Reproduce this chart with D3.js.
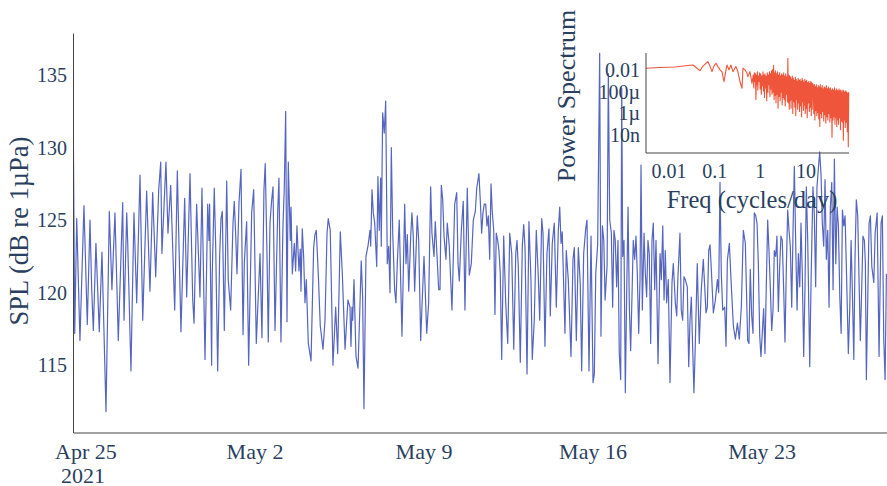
<!DOCTYPE html>
<html>
<head>
<meta charset="utf-8">
<script src="https://cdn.jsdelivr.net/npm/d3@7"></script>
<style>
  body { margin: 0; background: #fff; }
  svg { display: block; font-family: "Liberation Serif", "Times New Roman", serif; }
</style>
</head>
<body>
<div id="chart"></div>
<script>
// Hours since 2021-04-25 00:00 and the SPL reading at that time (dB re 1µPa)
const hoursSinceStart = [
  -12.6,-11.2,-9.2,-6.0,-2.0,1.3,4.0,5.7,7.3,9.9,
  13.2,15.9,19.9,23.2,25.8,28.8,32.1,36.5,37.8,40.5,
  41.5,44.7,47.7,50.4,53.7,56.4,60.3,63.6,66.3,69.3,
  72.3,74.3,75.5,79.5,81.5,84.2,88.2,90.8,94.4,98.1,
  100.1,103.4,106.1,107.4,110.0,113.3,115.3,
  118.3,121.0,122.3,122.9,124.9,125.5,127.5,128.9,130.9,132.9,
  134.2,135.5,137.5,139.9,141.4,143.8,146.1,147.4,148.8,150.1,
  152.1,154.1,156.1,157.4,159.7,161.7,164.7,166.7,169.3,173.0,
  174.9,176.9,178.2,179.9,181.2,182.9,184.6,185.9,187.9,190.6,
  191.8,193.8,195.8,197.1,198.5,199.8,201.1,203.1,203.8,205.1,
  207.1,208.4,209.7,211.7,213.0,213.7,215.0,216.4,217.7,219.0,
  221.0,223.7,226.3,227.6,228.9,230.9,232.9,235.6,237.6,239.6,
  240.8,242.8,245.5,248.2,250.2,252.8,254.8,
  257.5,260.4,262.4,263.4,264.4,265.1,266.4,268.4,270.4,272.4,
  273.6,275.0,276.3,278.3,280.3,282.3,283.0,284.3,285.6,287.0,
  289.0,290.2,291.5,292.9,293.5,294.9,296.5,297.9,299.5,300.9,
  302.2,303.5,304.9,306.8,308.1,309.4,311.4,314.1,316.8,318.1,
  319.4,320.8,322.8,324.0,325.3,326.7,329.3,330.7,332.7,334.0,
  336.0,338.7,340.6,342.6,343.9,345.9,347.2,348.6,350.6,351.9,
  353.2,354.6,355.9,357.8,359.1,361.1,363.8,366.5,368.5,369.8,
  371.1,373.1,375.0,376.7,379.0,381.0,383.0,385.0,387.0,388.4,
  390.6,391.9,393.3,394.6,395.9,397.3,398.6,399.9,401.3,402.6,
  403.9,405.3,406.5,407.8,409.2,410.5,411.8,413.2,415.2,417.2,
  419.2,421.2,423.2,425.2,427.2,428.4,429.7,431.7,433.7,435.1,
  436.4,438.4,440.3,442.3,443.6,445.6,447.6,449.6,451.0,453.0,
  454.3,456.2,458.2,460.2,461.5,463.5,465.5,467.5,469.5,470.9,
  472.2,473.4,476.1,477.4,479.4,482.1,484.1,485.4,487.4,489.4,
  491.3,492.7,494.7,496.7,498.0,500.0,502.0,504.0,505.3,506.7,
  508.6,510.6,511.9,513.3,514.7,516.0,518.0,519.2,520.6,
  522.2,523.5,524.8,526.1,527.5,528.8,530.1,531.5,532.5,533.5,
  534.8,536.1,537.5,538.8,540.1,541.4,542.7,544.0,545.4,546.7,
  548.0,549.4,550.7,551.7,553.0,554.7,556.0,557.3,558.6,559.9,
  561.3,562.6,563.9,565.3,566.6,568.6,570.6,571.9,573.3,574.6,
  575.8,577.2,578.8,580.5,582.5,583.8,585.8,587.2,588.4,590.4,
  591.7,593.1,594.4,595.7,597.7,599.1,600.4,601.7,603.0,604.3,
  605.6,607.6,609.6,611.6,613.6,615.0,616.3,617.6,619.0,620.3,
  621.6,623.6,625.6,627.6,628.9,630.2,631.5,632.9,634.9,636.2,
  637.5,639.5,641.5,643.5,645.5,647.5,649.4,651.4,653.4,655.4,
  657.7,659.0,660.3,661.7,663.0,664.3,665.7,667.0,668.3,669.7,
  670.9,672.2,673.6,674.9,676.2,677.6,678.9,680.2,681.6,682.9,
  684.2,685.6,686.8,688.2,689.5,690.8,692.1,693.5,694.8,696.1,
  697.5,698.8,700.1,701.5,702.8,704.1,705.5,706.8,708.1,709.5,
  710.7,712.0,713.4,714.7,716.0,717.4,719.4,720.7,722.6,723.9,
  725.3,726.6,727.9,729.3,730.6,731.9,733.3,734.6,735.9,737.3,
  738.6,739.9,741.3,742.6,743.9,745.3,746.6,747.9,749.3,750.6,
  751.9,753.3,754.5,755.8,757.8,759.2,760.5,761.8,763.2,764.4,
  765.7,767.1,768.4,769.7,771.1,772.3,773.7,774.7,775.7,777.1,
  778.4,779.7,781.1,783.1,784.4,786.4,788.3,790.3,791.6,793.0,
  794.3,795.6
];
const splDb = [
  131.3,117.2,125.1,116.7,126,117.8,125,120.2,117.4,123.4,
  117.3,122.8,111.8,125.6,120.2,125.5,116.7,126.2,118.1,125.5,
  123.4,114.6,125.5,119.3,128.1,118.1,127,120.1,126.9,121.1,
  127.1,129,122.7,129,124.1,127.4,118.8,128.4,117.3,126.5,
  119.7,128.2,119.5,117.9,126.1,119.7,127.2,
  115.4,126.1,123.6,126.1,115,121.2,127.2,123.3,114.6,122.6,
  125.1,125.6,117.4,127.7,120.9,118.8,124.7,126.3,124,121.3,
  126.2,128.5,117.1,122.1,124.9,115,125.5,127.1,116.5,122.7,
  116.9,127.1,128.9,122.7,116.6,124.8,126.4,127.3,117.4,125.6,
  127.9,116.6,124.6,127.2,132.5,118,129,123.6,125.9,121.3,
  123.4,121.5,124.6,121.5,123,120.1,124.4,122.4,119.3,120.9,
  116.5,115.3,123.1,124,124.3,121.3,117.7,116.1,118.1,124.1,
  125.1,124.3,115,119,115.8,124.2,121.3,
  116.1,119.5,119,116.3,119,118.1,120.9,115.6,114.8,119.3,
  122.2,119.7,112,122.5,123.2,124.3,123.2,127.1,125.5,124.8,
  121.8,128,124.3,127.9,123.2,132.4,131,133.2,122,123.2,
  120,130,124.1,120.2,119.3,122,125,117,126.1,122,
  124,120.1,123.9,125.5,123.9,120.1,125.3,123.6,116.7,119.1,
  122.5,117.2,119.3,127.3,124.1,122.5,124.9,123,120.2,120.2,
  127.4,126.4,123.9,122.3,124.8,123.2,118.8,126.1,126.9,122,
  120.8,124.3,126.3,118.8,127.2,121.2,122,125,125.6,127.2,
  128.2,126.4,124.1,125.5,126.1,126.1,124.6,125.3,122.3,127.5,
  125.5,124.3,118.5,124.1,123.6,122.9,121.3,115.4,123.9,119.3,
  116.5,124.1,122.7,116.1,122.7,123.6,121.8,115.2,123.2,124.7,
  123.1,114.4,124.9,120.9,115.4,118.1,124.3,121.1,118.1,125.1,
  124.1,116.3,122.7,124.4,118.4,123.4,124.8,119,124.3,125.9,
  123.4,124.2,117.2,122.9,120.9,115.6,122.3,123.1,116.7,123.1,
  120.6,114.6,122.7,124.4,125,114.6,123.9,113.8,114.4,121.3,
  123.3,136.5,117,124.6,123.6,119.5,121.9,135.1,125,
  124.1,119,124.3,123.6,120.4,123.6,115.8,114,134.1,122.5,
  123.6,113.1,120.2,125.9,119,116,119.7,123.6,122.3,123.9,
  121.3,117.2,120.9,128.8,118.8,124.1,121.3,119.7,123.6,122.7,
  116.5,123.6,124.8,120.2,123.6,115.1,122.7,120.9,124.6,119.5,
  122.9,119.3,120.9,113.8,120.7,122,119.3,118.4,121.1,124.1,
  118.8,118.1,121.1,120.9,120.4,114.9,118.1,119.7,116.3,113.1,
  116.3,122,116.5,120.2,122.3,120.4,118.6,119,122.9,123.3,
  121.6,118.6,119.5,120.9,120,127.6,121.3,118.8,119,116.3,
  122.2,123.4,120.4,117.7,116.8,117.9,116.8,119,124.3,123.4,
  116.7,116.5,121.6,118.4,117.2,125.5,125.3,124.8,122,117,
  115.6,117.2,118.9,115.8,120.4,125,122.9,120.4,117.4,118.8,
  122.9,122.5,123.9,118.7,121.8,123.9,123.6,120.2,116.6,121.6,
  125.7,124.3,123.2,119,124.3,128.7,123.2,118.8,122.7,120.4,
  124.8,121.3,115.6,120.4,127.3,123.6,114.9,120.7,127.3,125.5,
  120.4,127.3,128.5,129.7,128.2,124.8,123.2,127.8,122.3,124.3,
  119,125.9,127.6,120.2,129.2,122,125.9,124.6,119.7,117.2,
  125.7,124.6,125.3,121.8,115.8,119,123.6,120,115.4,122.3,
  126.4,125.3,120.9,116.7,120.4,123.9,123.6,122,114,119.7,
  124.8,125.3,121.8,120.7,124.1,125.5,115.6,124.8,125.3,116.7,
  114,121.3
];

// Power spectrum of the series (cycles/day vs power)
const specFreq = [
  0.00314,0.00635,0.0135,0.0288,0.0335,0.041,0.0477,0.0555,0.0645,0.0713,
  0.0789,0.0873,0.0966,0.107,0.118,0.131,0.145,0.160,0.177,0.186,
  0.206,0.227,0.251,0.278,0.292,0.323,0.358,0.396,0.416,0.460,
  0.509,0.535,0.592,0.655,
  0.70,0.72,0.74,0.76,0.78,0.80,0.82,0.84,0.86,0.88,0.90,0.93,0.96,0.99,
  1.02,1.05,1.08,1.11,1.14,1.17,1.2,1.23,1.26,1.3,1.34,1.38,
  1.42,1.46,1.5,1.54,1.58,1.62,1.66,1.7,1.75,1.8,1.85,1.9,
  1.95,2.0,2.05,2.1,2.15,2.2,2.26,2.32,2.38,2.44,2.5,2.57,2.64,2.71,2.78,2.85,2.92,
  3.0,3.08,3.16,3.24,3.32,3.4,3.5,3.6,3.7,3.8,3.9,4.0,4.1,4.2,4.3,4.4,4.5,
  4.6,4.7,4.8,4.9,5.0,5.13,5.26,5.4,5.54,5.68,5.82,5.96,6.1,6.25,6.4,
  6.55,6.7,6.85,7.0,7.2,7.4,7.6,7.8,8.0,8.2,8.4,8.6,8.8,9.0,9.2,
  9.4,9.6,9.8,10,10.3,10.6,10.9,11.2,11.5,11.8,12.1,12.4,12.7,13,13.3,13.6,14,
  14.4,14.8,15.2,15.6,16,16.4,16.8,17.2,17.6,18,18.5,19,19.5,20,20.5,
  21,21.5,22,22.6,23.2,23.8,24.4,25,25.7,26.4,27.1,27.8,28.5,29.2,30,
  30.8,31.6,32.4,33.2,34,35,36,37,38,39,40,41,42,43,44,
  45,46,47,48,49,50,51.3,52.6,54,55.4,56.8,58.2,59.6,61,62.5,
  64,65.5,67,68.5,70,72,74,76,78,80,82,84,86
];
const specPower = [
  1.7e-2,2.0e-2,2.2e-2,3.2e-2,3.4e-2,1.7e-2,1.0e-2,2.7e-2,4.9e-2,6.9e-2,
  2.7e-2,8.1e-3,2.7e-2,4.9e-2,2.4e-2,1.2e-2,7.6e-3,9.3e-4,1.2e-2,3.4e-2,
  1.2e-2,3.4e-2,8.1e-3,1.7e-2,2.4e-2,8.1e-3,9.3e-4,2.3e-4,1.7e-2,1.2e-2,
  5.7e-3,2.8e-3,8.1e-3,6.6e-4,
  4.0e-3,2.5e-4,6.3e-3,1.0e-3,5.0e-3,2.0e-5,4.0e-3,5.0e-4,7.9e-3,1.6e-4,3.2e-3,1.0e-3,6.3e-3,2.0e-4,
  5.0e-3,6.3e-5,3.2e-3,4.0e-4,7.9e-3,1.3e-4,4.0e-3,3.2e-5,5.0e-3,2.5e-4,3.2e-3,1.6e-5,
  6.3e-3,1.0e-4,4.0e-3,5.0e-4,7.9e-3,4.0e-5,5.0e-3,2.0e-4,1.0e-2,6.3e-5,1.3e-2,1.0e-4,
  3.2e-2,2.0e-5,6.3e-3,5.0e-5,1.0e-2,1.0e-5,5.0e-3,6.3e-5,7.9e-3,3.2e-6,4.0e-3,4.0e-5,6.3e-3,1.6e-5,3.2e-3,1.0e-4,5.0e-3,
  6.3e-6,4.0e-3,3.2e-5,6.3e-3,2.0e-5,3.2e-3,5.0e-6,5.0e-3,6.3e-5,2.5e-3,1.3e-5,1.4e-1,1.0e-5,4.0e-3,2.5e-6,3.2e-3,1.6e-5,
  2.5e-3,3.2e-6,1.6e-3,2.0e-5,3.2e-3,1.0e-6,2.0e-3,1.3e-5,1.3e-3,4.0e-6,2.5e-3,6.3e-7,1.6e-3,2.0e-5,1.0e-3,
  2.5e-6,2.0e-3,1.0e-5,1.3e-3,1.6e-6,1.6e-3,5.0e-6,1.0e-3,5.0e-7,2.0e-3,1.3e-5,1.3e-3,2.0e-6,7.9e-4,6.3e-6,
  1.6e-3,1.0e-6,1.0e-3,3.2e-6,1.3e-3,4.0e-7,7.9e-4,1.0e-5,1.0e-3,1.6e-6,6.3e-4,4.0e-6,1.0e-3,6.3e-7,7.9e-4,2.5e-6,6.3e-4,
  4.0e-4,1.0e-6,5.0e-4,2.5e-7,3.2e-4,2.0e-6,5.0e-4,6.3e-7,2.5e-4,1.3e-6,4.0e-4,3.2e-7,3.2e-4,6.3e-8,5.0e-4,
  1.0e-6,2.5e-4,4.0e-7,4.0e-4,1.6e-6,2.0e-4,2.0e-7,3.2e-4,7.9e-7,2.5e-4,1.3e-7,4.0e-4,5.0e-7,2.0e-4,2.5e-7,
  3.2e-4,1.0e-6,2.0e-4,1.6e-7,2.5e-4,4.0e-7,1.6e-4,6.3e-9,2.0e-4,2.5e-7,1.6e-4,5.0e-7,2.5e-4,1.0e-7,1.3e-4,
  4.0e-7,2.0e-4,6.3e-8,1.6e-4,2.5e-7,1.3e-4,1.0e-7,2.0e-4,4.0e-7,1.3e-4,3.2e-8,1.6e-4,2.0e-7,1.0e-4,1.6e-7,
  1.6e-4,3.2e-9,1.3e-4,2.5e-7,1.0e-4,5.0e-8,1.3e-4,1.6e-7,1.0e-4,2.0e-8,7.9e-5,7.9e-10,1.0e-4
];

// Axis ticks
const yTicks = [115, 120, 125, 130, 135];
const xTickDays = ["2021-04-25", "2021-05-02", "2021-05-09", "2021-05-16", "2021-05-23"];
const xTickLabels = ["Apr 25", "May 2", "May 9", "May 16", "May 23"];
const xYearLabel = "2021";
const specXTicks = [0.01, 0.1, 1, 10];
const specXLabels = ["0.01", "0.1", "1", "10"];
const specYTicks = [1e-2, 1e-4, 1e-6, 1e-8];
const specYLabels = ["0.01", "100µ", "1µ", "10n"];

const width = 887, height = 486;
const textColor = "#2a3f5f";
const lineColor = "#5565c0";
const specColor = "#ee553b";

const base = new Date(2021, 3, 25);
const atHour = h => new Date(base.getTime() + h * 3600e3);
const parseDay = s => { const p = s.split("-").map(Number); return new Date(p[0], p[1] - 1, p[2]); };

const series = hoursSinceStart.map((h, i) => ({ t: atHour(h), v: splDb[i] }))
  .filter(d => d.v != null);
const spectrum = specFreq.map((f, i) => ({ f, p: specPower[i] }))
  .filter(d => d.p != null);

// Main plot area
const plot = { left: 73, right: 887, top: 33, bottom: 432.5 };

const x = d3.scaleTime()
  .domain([atHour(-12.9), atHour(796.2)])
  .range([plot.left, plot.right]);
const y = d3.scaleLinear()
  .domain([110.36, 137.9])
  .range([plot.bottom, plot.top]);

const svg = d3.select("#chart").append("svg")
  .attr("width", width)
  .attr("height", height)
  .attr("viewBox", [0, 0, width, height]);

svg.append("rect").attr("width", width).attr("height", height).attr("fill", "#fff");

svg.append("clipPath").attr("id", "plot-clip")
  .append("rect")
  .attr("x", plot.left).attr("y", plot.top)
  .attr("width", plot.right - plot.left).attr("height", plot.bottom - plot.top);

svg.append("path")
  .datum(series)
  .attr("clip-path", "url(#plot-clip)")
  .attr("fill", "none")
  .attr("stroke", lineColor)
  .attr("stroke-width", 1.2)
  .attr("stroke-linejoin", "round")
  .attr("d", d3.line().x(d => x(d.t)).y(d => y(d.v)));

// y axis
const yAxis = svg.append("g")
  .attr("transform", `translate(${plot.left},0)`)
  .call(d3.axisLeft(y).tickValues(yTicks).tickSize(0).tickPadding(6).tickFormat(d3.format("d")));
yAxis.select(".domain").attr("stroke", "#444").attr("stroke-width", 1);
yAxis.selectAll("text").attr("fill", textColor).attr("font-size", 20)
  .attr("font-family", "Liberation Serif, Times New Roman, serif");

// x axis
const xAxis = svg.append("g")
  .attr("transform", `translate(0,${plot.bottom})`)
  .call(d3.axisBottom(x).tickValues([]).tickSize(0));
xAxis.select(".domain").attr("stroke", "#444").attr("stroke-width", 1);

const xLabels = svg.append("g")
  .attr("fill", textColor)
  .attr("font-size", 22)
  .attr("text-anchor", "middle");
xLabels.selectAll("text.tick-label")
  .data(xTickDays)
  .join("text")
  .attr("class", "tick-label")
  .attr("x", d => x(parseDay(d)))
  .attr("y", 459)
  .text((d, i) => xTickLabels[i]);
xLabels.append("text")
  .attr("x", x(parseDay(xTickDays[0])) - 3)
  .attr("y", 482.5)
  .text(xYearLabel);

svg.append("text")
  .attr("transform", `translate(28,231) rotate(-90)`)
  .attr("text-anchor", "middle")
  .attr("fill", textColor)
  .attr("font-size", 26.5)
  .text("SPL (dB re 1µPa)");

// Inset: power spectrum
const inset = { left: 646, right: 849, top: 53, bottom: 153 };
const fx = d3.scaleLog()
  .domain([Math.pow(10, -2.503), Math.pow(10, 1.94)])
  .range([inset.left, inset.right]);
const fy = d3.scaleLog()
  .domain([Math.pow(10, -9.68), Math.pow(10, -0.35)])
  .range([inset.bottom, inset.top]);

const g = svg.append("g");

g.append("path")
  .datum(spectrum)
  .attr("fill", "none")
  .attr("stroke", specColor)
  .attr("stroke-width", 1.1)
  .attr("stroke-linejoin", "round")
  .attr("d", d3.line().x(d => fx(d.f)).y(d => fy(d.p)));

g.append("line")
  .attr("x1", inset.left).attr("x2", inset.left)
  .attr("y1", inset.top).attr("y2", inset.bottom)
  .attr("stroke", "#444");
g.append("line")
  .attr("x1", inset.left).attr("x2", inset.right)
  .attr("y1", inset.bottom).attr("y2", inset.bottom)
  .attr("stroke", "#444");

g.append("g")
  .attr("fill", textColor).attr("font-size", 20).attr("text-anchor", "end")
  .selectAll("text").data(specYTicks).join("text")
  .attr("x", inset.left - 6)
  .attr("y", d => fy(d))
  .attr("dy", "0.33em")
  .text((d, i) => specYLabels[i]);

g.append("g")
  .attr("fill", textColor).attr("font-size", 20).attr("text-anchor", "middle")
  .selectAll("text").data(specXTicks).join("text")
  .attr("x", d => fx(d))
  .attr("y", 178)
  .text((d, i) => specXLabels[i]);

g.append("text")
  .attr("x", 752).attr("y", 208)
  .attr("text-anchor", "middle")
  .attr("fill", textColor)
  .attr("font-size", 24.5)
  .text("Freq (cycles/day)");

g.append("text")
  .attr("transform", `translate(575,96) rotate(-90)`)
  .attr("text-anchor", "middle")
  .attr("fill", textColor)
  .attr("font-size", 26)
  .text("Power Spectrum");
</script>
</body>
</html>
